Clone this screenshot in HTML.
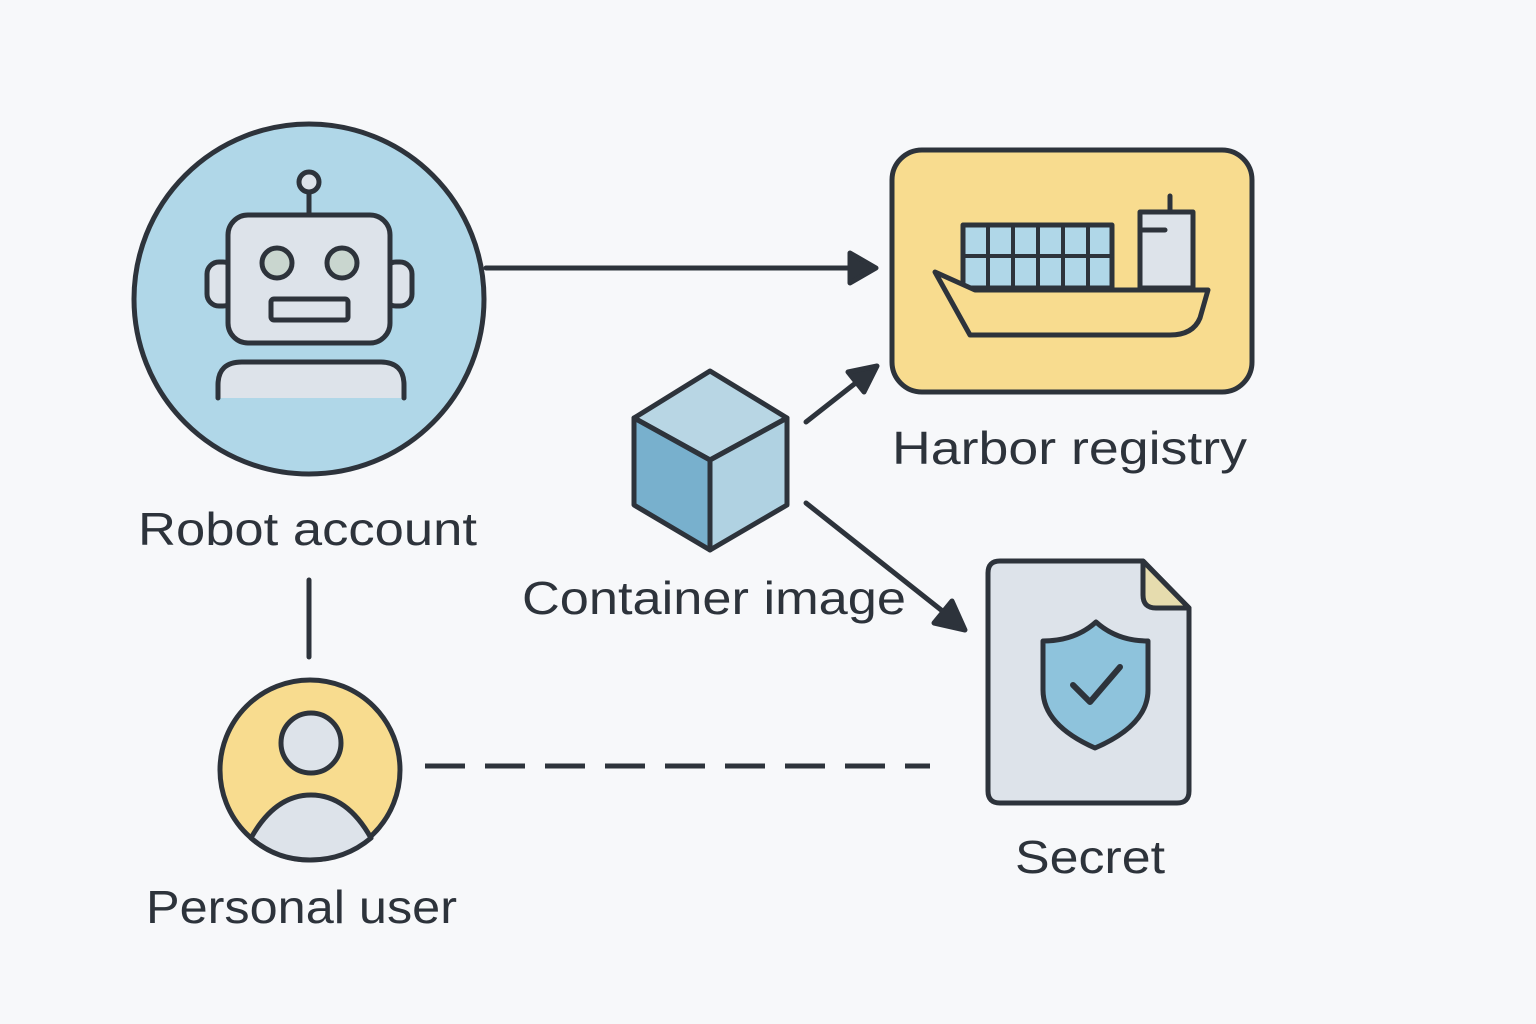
<!DOCTYPE html>
<html><head><meta charset="utf-8"><style>
html,body{margin:0;padding:0;background:#f7f8fa;}
svg{display:block}
text{font-family:"Liberation Sans",sans-serif;fill:#2d333b;font-size:46px}
</style></head><body>
<svg width="1536" height="1024" viewBox="0 0 1536 1024" xmlns="http://www.w3.org/2000/svg">
<rect width="1536" height="1024" fill="#f7f8fa"/>
<g stroke="#2d333b" stroke-width="5" stroke-linejoin="round" stroke-linecap="round">
<!-- robot -->
<circle cx="309" cy="299" r="175" fill="#b0d7e8"/>
<rect x="207" y="262" width="28" height="44" rx="12" fill="#dde3ea"/>
<rect x="384" y="262" width="28" height="44" rx="12" fill="#dde3ea"/>
<line x1="309" y1="215" x2="309" y2="192"/>
<circle cx="309" cy="182" r="10" fill="#dde3ea"/>
<rect x="228" y="215" width="162" height="128" rx="20" fill="#dde3ea"/>
<circle cx="277" cy="263" r="15" fill="#c9d6cf"/>
<circle cx="342" cy="263" r="15" fill="#c9d6cf"/>
<rect x="271" y="299" width="77" height="21" rx="3" fill="#dde3ea"/>
<path d="M218 398 L218 385 Q218 362 242 362 L380 362 Q404 362 404 385 L404 398" fill="#dde3ea"/>
<!-- arrow robot->harbor -->
<line x1="486" y1="268" x2="858" y2="268"/>
<polygon points="876,268 850,253 850,283" fill="#2d333b"/>
<!-- harbor -->
<rect x="892" y="150" width="360" height="242" rx="30" fill="#f8dc8f"/>
<rect x="963" y="225" width="149" height="63" fill="#b0d7e8"/>
<g stroke-width="4"><line x1="988" y1="225" x2="988" y2="288"/><line x1="1013" y1="225" x2="1013" y2="288"/><line x1="1038" y1="225" x2="1038" y2="288"/><line x1="1063" y1="225" x2="1063" y2="288"/><line x1="1088" y1="225" x2="1088" y2="288"/><line x1="963" y1="256" x2="1112" y2="256"/></g>
<rect x="1140" y="212" width="53" height="76" fill="#dde3ea"/>
<line x1="1140" y1="230" x2="1165" y2="230"/>
<line x1="1170" y1="212" x2="1170" y2="196"/>
<path d="M935 272 L975 290 L1208 290 L1200 318 Q1193 335 1170 335 L970 335 Z" fill="#f8dc8f"/>
<!-- cube -->
<polygon points="710,371 787,418 710,460 634,418" fill="#b8d6e4"/>
<polygon points="634,418 710,460 710,550 634,505" fill="#78b0cd"/>
<polygon points="710,460 787,418 787,505 710,550" fill="#b0d2e2"/>
<!-- cube arrows -->
<line x1="806" y1="422" x2="862" y2="378"/>
<polygon points="877,366 848,372 864,392" fill="#2d333b"/>
<line x1="806" y1="503" x2="950" y2="617"/>
<polygon points="965,630 952,601 934,623" fill="#2d333b"/>
<!-- secret -->
<path d="M1000 561 L1143 561 L1189 608 L1189 791 Q1189 803 1177 803 L1000 803 Q988 803 988 791 L988 573 Q988 561 1000 561 Z" fill="#dde3ea"/>
<path d="M1143 561 L1143 595 Q1143 608 1156 608 L1189 608 Z" fill="#e6dcae"/>
<path d="M1096 622 Q1075 641 1043 641 L1043 690 Q1043 725 1095 748 Q1148 725 1148 690 L1148 641 Q1117 641 1096 622 Z" fill="#8ec3dc"/>
<polyline points="1073,685 1090,702 1120,667" fill="none" stroke-width="6"/>
<!-- connectors -->
<line x1="309" y1="580" x2="309" y2="657"/>
<line x1="425" y1="766" x2="930" y2="766" stroke-dasharray="40 20" stroke-linecap="butt"/>
<!-- person -->
<circle cx="310" cy="770" r="90" fill="#f8dc8f"/>
<path d="M251 838 Q275 795 311 795 Q347 795 371 838 Q345 860 310 860 Q276 860 251 838 Z" fill="#dde3ea"/>
<circle cx="311" cy="743" r="30" fill="#dde3ea"/>
</g>
<text x="138" y="545" textLength="339" lengthAdjust="spacingAndGlyphs">Robot account</text>
<text x="892" y="464" textLength="355" lengthAdjust="spacingAndGlyphs">Harbor registry</text>
<text x="522" y="614" textLength="384" lengthAdjust="spacingAndGlyphs">Container image</text>
<text x="1015" y="873" textLength="150" lengthAdjust="spacingAndGlyphs">Secret</text>
<text x="146" y="923" textLength="311" lengthAdjust="spacingAndGlyphs">Personal user</text>
</svg>
</body></html>
